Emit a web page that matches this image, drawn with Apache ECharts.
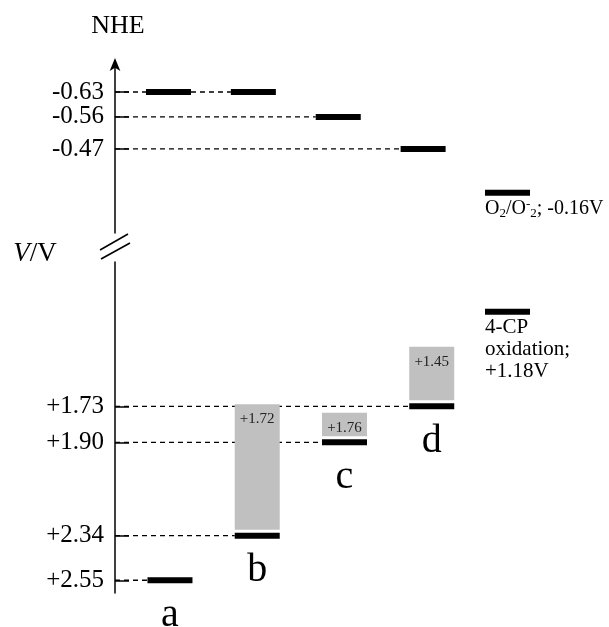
<!DOCTYPE html>
<html><head><meta charset="utf-8">
<script src="https://cdn.jsdelivr.net/npm/echarts@6/dist/echarts.min.js"></script>
<style>html,body{margin:0;padding:0;background:#fff}#c{width:609px;height:627px}</style>
</head><body><div id="c"></div>
<script>
// ---- data ----
const columns = ['a', 'b', 'c', 'd'];
const cbValues = [-0.63, -0.63, -0.56, -0.47];
const vbValues = [2.55, 2.34, 1.90, 1.73];
const boxTopValues = [null, 1.72, 1.76, 1.45];
const topTickValues = [-0.63, -0.56, -0.47];
const bottomTickValues = [1.73, 1.90, 2.34, 2.55];
const refValues = [-0.16, 1.18];
const refLabels = ['{t|O}{sub|2}{t|/O}{sup|-}{sub|2}{t|; -0.16V}', '4-CP\noxidation;\n+1.18V'];

// ---- style ----
const FONT = '"Liberation Serif", "Times New Roman", serif';
const BAR_W = 45, BAR_H = 6;

function guideData(values) {
  return values.map((v, i) => {
    let prev = -1;
    for (let j = i - 1; j >= 0; j--) if (values[j] === v) { prev = j; break; }
    return [i, v, prev];
  });
}
function guideItem(params, api) {
  const i = api.value(0), v = api.value(1), prev = api.value(2);
  const p = api.coord([i, v]);
  const x0 = prev < 0 ? params.coordSys.x : api.coord([prev, v])[0] + BAR_W / 2;
  return { type: 'line', shape: { x1: x0, y1: p[1], x2: p[0] - BAR_W / 2, y2: p[1] },
    style: { stroke: '#000', lineWidth: 1.3, lineDash: [5, 4] } };
}
function barItem(params, api) {
  const p = api.coord([api.value(0), api.value(1)]);
  return { type: 'rect', shape: { x: p[0] - BAR_W / 2, y: p[1] - BAR_H / 2, width: BAR_W, height: BAR_H },
    style: { fill: '#000' } };
}
function boxItem(params, api) {
  const i = api.value(0), top = api.value(1), vb = api.value(2);
  const pt = api.coord([i, top]), pb = api.coord([i, vb]);
  return { type: 'group', children: [
    { type: 'rect', shape: { x: pt[0] - BAR_W / 2, y: pt[1], width: BAR_W, height: pb[1] - BAR_H / 2 - 3 - pt[1] },
      style: { fill: '#c0c0c0' } },
    { type: 'text', x: pt[0], y: pt[1] + 15,
      style: { text: '+' + top.toFixed(2), fontSize: 15, fontFamily: FONT, fill: '#222', align: 'center', verticalAlign: 'middle' } }
  ] };
}
function letterItem(params, api) {
  const p = api.coord([api.value(0), api.value(1)]);
  return { type: 'text', x: p[0], y: p[1] + 35,
    style: { text: columns[params.dataIndex], fontSize: 40, fontFamily: FONT, fill: '#000', align: 'center', verticalAlign: 'middle' } };
}
function refItem(params, api) {
  const p = api.coord([api.value(0), api.value(1)]);
  return { type: 'group', children: [
    { type: 'rect', shape: { x: p[0] - BAR_W / 2, y: p[1] - BAR_H / 2, width: BAR_W, height: BAR_H }, style: { fill: '#000' } },
    { type: 'text', x: p[0] - BAR_W / 2, y: p[1] + 5,
      style: { text: refLabels[params.dataIndex], fontSize: 21, lineHeight: 22, fontFamily: FONT, fill: '#000', align: 'left', verticalAlign: 'top',
        rich: {
          t: { fontSize: 20, lineHeight: 22, fontFamily: FONT, verticalAlign: 'middle' },
          sub: { fontSize: 13, lineHeight: 12, fontFamily: FONT, verticalAlign: 'bottom' },
          sup: { fontSize: 13, lineHeight: 12, fontFamily: FONT, verticalAlign: 'top' }
        } } }
  ] };
}

const axisLineBase = { show: true, onZero: false, lineStyle: { color: '#000', width: 1.5 } };
const axisBase = {
  type: 'value', inverse: true, splitLine: { show: false },
  axisLine: axisLineBase,
  axisTick: { show: true, inside: true, length: 14, lineStyle: { color: '#000', width: 1.5 } },
  axisLabel: { fontSize: 25, fontFamily: FONT, color: '#000', margin: 11, hideOverlap: false }
};

const chart = echarts.init(document.getElementById('c'), null, { renderer: 'canvas' });
chart.setOption({
  animation: false,
  backgroundColor: '#fff',
  grid: [
    { left: 115, top: 61, width: 393, height: 172 },
    { left: 115, top: 262, width: 404, height: 331 },
    { left: 485, top: 150, width: 45, height: 200 }
  ],
  xAxis: [
    { gridIndex: 0, type: 'value', min: -0.63, max: 4.0, show: false },
    { gridIndex: 1, type: 'value', min: -0.63, max: 4.0, show: false },
    { gridIndex: 2, type: 'value', min: 0, max: 1, show: false }
  ],
  yAxis: [
    Object.assign({}, axisBase, { gridIndex: 0, min: -0.717, max: -0.234,
      axisLine: Object.assign({}, axisLineBase, { symbol: ['none', 'arrow'], symbolSize: [8, 13], symbolOffset: [0, 3] }),
      axisTick: Object.assign({}, axisBase.axisTick, { customValues: topTickValues }),
      axisLabel: Object.assign({}, axisBase.axisLabel, { customValues: topTickValues, formatter: v => v.toFixed(2) }) }),
    Object.assign({}, axisBase, { gridIndex: 1, min: 1.05, max: 2.61,
      axisTick: Object.assign({}, axisBase.axisTick, { customValues: bottomTickValues }),
      axisLabel: Object.assign({}, axisBase.axisLabel, { customValues: bottomTickValues, formatter: v => '+' + v.toFixed(2) }) }),
    { gridIndex: 2, type: 'value', inverse: true, min: -0.64, max: 1.61, show: false }
  ],
  series: [
    { type: 'custom', xAxisIndex: 0, yAxisIndex: 0, z: 1, renderItem: guideItem, data: guideData(cbValues) },
    { type: 'custom', xAxisIndex: 0, yAxisIndex: 0, z: 3, renderItem: barItem, data: cbValues.map((v, i) => [i, v]) },
    { type: 'custom', xAxisIndex: 1, yAxisIndex: 1, z: 1, renderItem: guideItem, data: guideData(vbValues) },
    { type: 'custom', xAxisIndex: 1, yAxisIndex: 1, z: 2, renderItem: boxItem,
      data: boxTopValues.map((t, i) => t == null ? null : [i, t, vbValues[i]]).filter(d => d) },
    { type: 'custom', xAxisIndex: 1, yAxisIndex: 1, z: 3, renderItem: barItem, data: vbValues.map((v, i) => [i, v]) },
    { type: 'custom', xAxisIndex: 1, yAxisIndex: 1, z: 3, renderItem: letterItem, data: vbValues.map((v, i) => [i, v]) },
    { type: 'custom', xAxisIndex: 2, yAxisIndex: 2, z: 3, renderItem: refItem, data: refValues.map(v => [0.5, v]) }
  ],
  graphic: [
    { type: 'text', x: 118, y: 26, style: { text: 'NHE', fontSize: 26, fontFamily: FONT, fill: '#000', align: 'center', verticalAlign: 'middle' } },
    { type: 'text', x: 35, y: 254, style: { text: '{i|V}{n|/V}', fontSize: 27, fontFamily: FONT, fill: '#000', align: 'center', verticalAlign: 'middle',
        rich: { i: { fontSize: 27, fontFamily: FONT, fontStyle: 'italic' }, n: { fontSize: 27, fontFamily: FONT } } } },
    { type: 'line', shape: { x1: 100, y1: 250, x2: 128, y2: 234 }, style: { stroke: '#000', lineWidth: 1.5 } },
    { type: 'line', shape: { x1: 101, y1: 259, x2: 130, y2: 243 }, style: { stroke: '#000', lineWidth: 1.5 } }
  ]
});
</script>
</body></html>
